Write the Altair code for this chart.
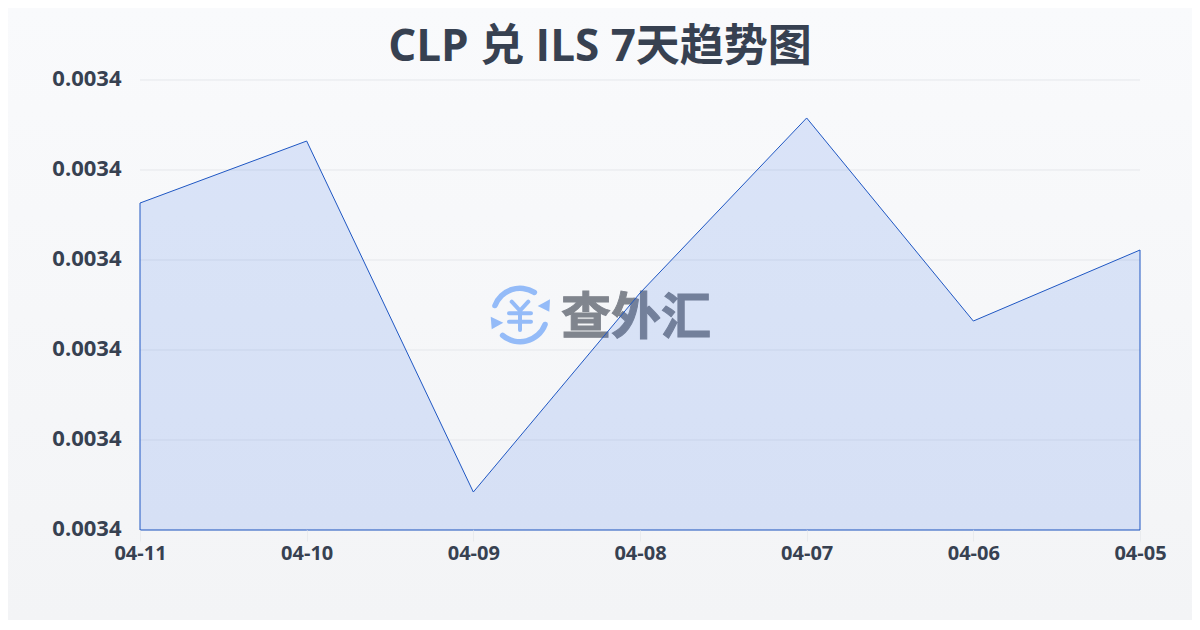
import altair as alt
import pandas as pd

dates = ["04-11", "04-10", "04-09", "04-08", "04-07", "04-06", "04-05"]
rates = [0.00341633, 0.00342322, 0.00338422, 0.00340633, 0.00342578, 0.00340322, 0.00341111]
y_ticks = [0.00338, 0.00339, 0.00340, 0.00341, 0.00342, 0.00343]
title_text = "CLP 兑 ILS 7天趋势图"
watermark_text = "查外汇"

FONT = "Open Sans, Noto Sans CJK SC"
TEXT = "#374151"
LOGO = "#94bbf8"
W, H = 1000, 450
LEFT, TOP = 132, 72
TOTAL_W, TOTAL_H = 1184, 612

df = pd.DataFrame({"date": dates, "rate": rates, "base": [y_ticks[0]] * len(dates)})
tick_df = pd.DataFrame({"t": y_ticks})
one = alt.Data(values=[{"a": 1}])

x = alt.X("date:N", sort=dates, scale=alt.Scale(type="point", padding=0),
          axis=alt.Axis(title=None, labelAngle=0, labelFont=FONT, labelFontSize=20, labelFontWeight="bold",
                        labelColor=TEXT, labelPadding=2, tickColor="#e9ebee", tickSize=11, domain=False,
                        grid=False, zindex=1, labelBound=False, labelFlush=False))
yscale = alt.Scale(domain=[y_ticks[0], y_ticks[-1]], nice=False, zero=False)
yaxis = alt.Axis(title=None, values=y_ticks, format=".4f", labelFont=FONT, labelFontSize=22,
                 labelFontWeight="bold", labelColor=TEXT, labelPadding=19, labelOffset=-2,
                 ticks=False, domain=False, grid=False, zindex=1)
y = alt.Y("rate:Q", scale=yscale, axis=yaxis)

page_bg = alt.Chart(one).mark_rect(
    fill=alt.Gradient(gradient="linear", x1=0, y1=0, x2=0, y2=1,
                      stops=[alt.GradientStop(offset=0, color="#f9fafc"),
                             alt.GradientStop(offset=1, color="#f3f4f6")])
).encode(x=alt.value(-LEFT), x2=alt.value(TOTAL_W - LEFT), y=alt.value(-TOP), y2=alt.value(TOTAL_H - TOP))

grid = alt.Chart(tick_df).mark_rule(color="#e5e7eb", strokeWidth=1).encode(
    y=alt.Y("t:Q", scale=yscale, axis=yaxis))

def px(v):
    return alt.value(v - 140)

def py(v):
    return alt.value(v - 80)

arc_top = alt.Chart(one).mark_arc(theta=4.97, theta2=6.95, innerRadius=24, outerRadius=29.5, cornerRadius=2.7,
                                  color=LOGO).encode(x=px(520), y=py(315))
arc_bot = alt.Chart(one).mark_arc(theta=1.83, theta2=3.95, innerRadius=24, outerRadius=29.5, cornerRadius=2.7,
                                  color=LOGO).encode(x=px(520), y=py(315))
tri_a = alt.Chart(one).mark_point(shape="M0.6,-0.57L0.53,0.67L-0.63,0.1Z", filled=True, opacity=1, size=400,
                                  color=LOGO).encode(x=px(544), y=py(305))
tri_b = alt.Chart(one).mark_point(shape="M-0.63,-0.63L-0.53,0.63L0.63,-0.03Z", filled=True, opacity=1, size=400,
                                  color=LOGO).encode(x=px(497), y=py(323))
yen = alt.Chart(one).mark_point(
    shape="M-0.83,-1.33L0,-0.43L0.83,-1.33M-1.1,-0.17L1.1,-0.17M-1.1,0.67L1.1,0.67M0,-0.43L0,1.5",
    filled=False, opacity=1, size=400, stroke=LOGO, strokeWidth=4, strokeCap="round", strokeJoin="round"
).encode(x=px(520), y=py(315))
wm = alt.Chart(one).mark_text(text=watermark_text, font="Noto Sans CJK SC", fontWeight="bold", fontSize=50,
                              color="#80858e", stroke="#80858e", strokeWidth=1,
                              align="center", baseline="middle").encode(x=px(636), y=py(319))
title = alt.Chart(one).mark_text(text=title_text, font=FONT, fontWeight="bold", fontSize=44, color="#374151",
                                 align="center", baseline="middle").encode(x=px(600), y=py(48))

area = alt.Chart(df).mark_area(
    fill="#2563eb", fillOpacity=0.14, stroke="#1f57c3", strokeWidth=1, interpolate="linear"
).encode(x=x, y=y, y2="base:Q")

chart = alt.layer(page_bg, grid, arc_top, arc_bot, tri_a, tri_b, yen, wm, area, title).properties(
    width=W, height=H,
    background="#f6f7f9",
    padding={"left": LEFT, "top": TOP, "right": TOTAL_W - LEFT - W, "bottom": TOTAL_H - TOP - H},
    autosize=alt.AutoSizeParams(type="none"),
).configure_view(stroke=None)

chart.save("out.html", embed_options={"renderer": "svg", "actions": False})
